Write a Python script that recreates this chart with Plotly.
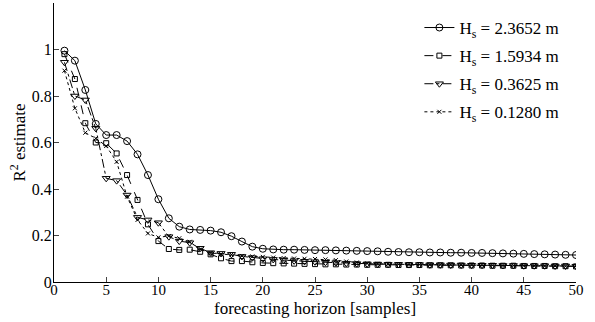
import plotly.graph_objects as go

horizon = list(range(1, 51))

r2_h23652 = [0.995, 0.952, 0.826, 0.680, 0.632, 0.632, 0.606, 0.549, 0.460, 0.356,
             0.274, 0.238, 0.226, 0.224, 0.221, 0.214, 0.197, 0.174, 0.152, 0.143,
             0.140, 0.139, 0.139, 0.138, 0.137, 0.137, 0.136, 0.135, 0.134, 0.133,
             0.132, 0.130, 0.129, 0.128, 0.128, 0.127, 0.127, 0.126, 0.126, 0.125,
             0.125, 0.124, 0.123, 0.122, 0.121, 0.120, 0.119, 0.118, 0.117, 0.116]

r2_h15934 = [0.980, 0.873, 0.683, 0.600, 0.597, 0.553, 0.460, 0.353, 0.248, 0.176,
             0.142, 0.138, 0.139, 0.130, 0.119, 0.102, 0.090, 0.090, 0.085, 0.082,
             0.081, 0.080, 0.079, 0.078, 0.077, 0.076, 0.076, 0.075, 0.075, 0.074,
             0.074, 0.074, 0.073, 0.073, 0.073, 0.072, 0.072, 0.072, 0.071, 0.071,
             0.071, 0.070, 0.070, 0.070, 0.069, 0.069, 0.069, 0.068, 0.068, 0.067]

r2_h03625 = [0.945, 0.800, 0.783, 0.661, 0.446, 0.436, 0.374, 0.278, 0.267, 0.255,
             0.195, 0.176, 0.169, 0.145, 0.126, 0.123, 0.119, 0.110, 0.105, 0.100,
             0.097, 0.094, 0.091, 0.089, 0.087, 0.085, 0.083, 0.081, 0.079, 0.078,
             0.077, 0.076, 0.076, 0.075, 0.075, 0.074, 0.074, 0.073, 0.073, 0.072,
             0.072, 0.072, 0.071, 0.071, 0.070, 0.070, 0.070, 0.069, 0.069, 0.068]

r2_h01280 = [0.909, 0.747, 0.642, 0.618, 0.585, 0.517, 0.367, 0.267, 0.209, 0.192,
             0.198, 0.188, 0.173, 0.140, 0.125, 0.120, 0.118, 0.112, 0.110, 0.108,
             0.105, 0.103, 0.101, 0.100, 0.099, 0.097, 0.094, 0.088, 0.084, 0.080,
             0.078, 0.077, 0.076, 0.076, 0.075, 0.075, 0.074, 0.074, 0.073, 0.073,
             0.072, 0.072, 0.071, 0.071, 0.070, 0.070, 0.069, 0.069, 0.068, 0.068]

series_names = ["H<sub>s</sub> = 2.3652 m", "H<sub>s</sub> = 1.5934 m",
                "H<sub>s</sub> = 0.3625 m", "H<sub>s</sub> = 0.1280 m"]

x_ticks = [0, 5, 10, 15, 20, 25, 30, 35, 40, 45, 50]
y_ticks = [0, 0.2, 0.4, 0.6, 0.8, 1]
y_tick_labels = ["0", "0.2", "0.4", "0.6", "0.8", "1"]

styles = [
    dict(dash="solid", symbol="circle-open", size=7),
    dict(dash="dash", symbol="square-open", size=5),
    dict(dash="dashdot", symbol="triangle-down-open", size=7),
    dict(dash="dot", symbol="x-thin-open", size=4),
]

fig = go.Figure()
for i, (vals, name, st) in enumerate(zip([r2_h23652, r2_h15934, r2_h03625, r2_h01280], series_names, styles)):
    fig.add_trace(go.Scatter(
        x=horizon, y=vals, name=name, mode="lines+markers", legendgroup=f"g{i}",
        line=dict(color="black", width=1, dash=st["dash"]),
        marker=dict(symbol=st["symbol"], size=st["size"], color="black",
                    line=dict(color="black", width=1)),
    ))

font_family = "Liberation Serif, Times New Roman, serif"
fig.update_layout(
    width=595, height=322,
    margin=dict(l=54, r=19, t=3, b=40),
    paper_bgcolor="white", plot_bgcolor="white",
    font=dict(family=font_family, size=15, color="black"),
    showlegend=True,
    legend=dict(x=0.70, y=0.975, xanchor="left", yanchor="top",
                bgcolor="rgba(0,0,0,0)", font=dict(size=17),
                itemwidth=30, tracegroupgap=3),
    xaxis=dict(range=[0, 50], tickvals=x_ticks, ticks="inside", ticklen=5,
               showline=True, linecolor="black", linewidth=1, showgrid=False,
               zeroline=False, mirror=False, ticklabelstandoff=-6,
               tickfont=dict(size=15)),
    yaxis=dict(range=[0, 1.2], tickvals=y_ticks, ticktext=y_tick_labels,
               ticks="inside", ticklen=5, showline=True, linecolor="black",
               linewidth=1, showgrid=False, zeroline=False, mirror=False,
               ticklabelstandoff=-2,
               title=dict(text="R<sup>2</sup> estimate", standoff=1,
                          font=dict(size=17)),
               tickfont=dict(size=16)),
    annotations=[dict(text="forecasting horizon [samples]", xref="paper", yref="paper",
                      x=0.5, y=-26 / 279, xanchor="center", yanchor="middle",
                      showarrow=False, font=dict(size=17))],
)

fig.write_html("out.html")
